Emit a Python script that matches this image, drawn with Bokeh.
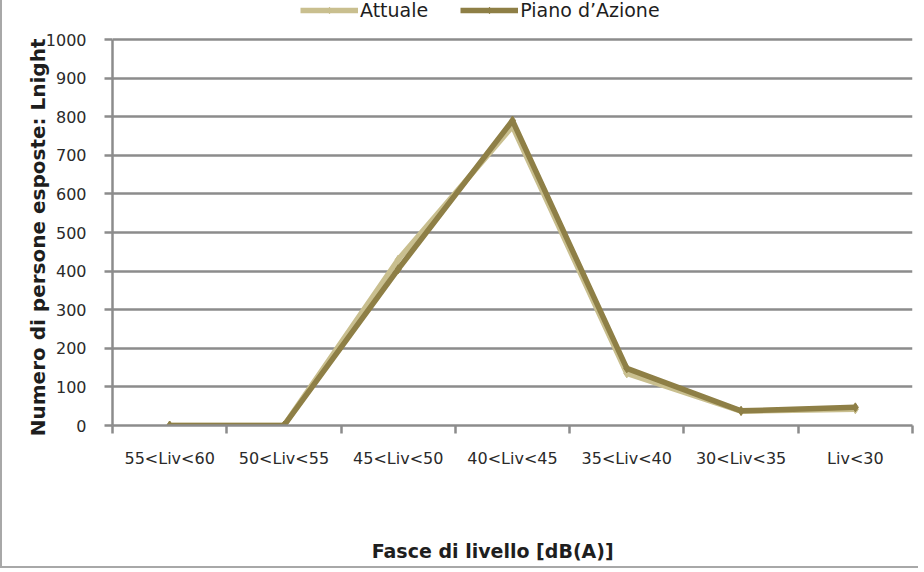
from bokeh.plotting import figure
from bokeh.models import Range1d, FixedTicker, Legend, LegendItem
from bokeh.embed import file_html
from bokeh.resources import INLINE

categories = ["55<Liv<60", "50<Liv<55", "45<Liv<50", "40<Liv<45",
              "35<Liv<40", "30<Liv<35", "Liv<30"]
attuale = [0, 0, 430, 775, 135, 37, 42]
piano = [0, 0, 405, 790, 148, 38, 47]
y_ticks = list(range(0, 1001, 100))
y_min, y_max = 0, 1000

FONT = "DejaVu Sans"
GRID = "#8c8c8c"
C_ATT = "#c9bf8f"
C_PIANO = "#8e7f46"

xs = [i + 0.5 for i in range(len(categories))]
bounds = list(range(len(categories) + 1))

FRAME_H = 425          # frame reaches the top of the figure
AXIS_H = 386           # pixels spanned by 0..1000
y_top = y_min + (y_max - y_min) * FRAME_H / AXIS_H

p = figure(width=918, height=568, output_backend="svg", toolbar_location=None,
           x_range=Range1d(0, len(categories)), y_range=Range1d(y_min, y_top),
           min_border_left=110, min_border_right=8, min_border_top=0,
           min_border_bottom=143)
p.outline_line_color = None
p.background_fill_color = "white"
p.border_fill_color = "white"
p.styles = {"border-left": "2px solid #a8a8a8", "border-bottom": "2px solid #a8a8a8"}

p.xgrid.visible = False
p.ygrid.grid_line_color = GRID
p.ygrid.grid_line_width = 2.5
p.ygrid.ticker = FixedTicker(ticks=y_ticks)

# y axis
p.yaxis.ticker = FixedTicker(ticks=y_ticks)
p.yaxis.bounds = (y_min, y_max)
p.yaxis.axis_line_color = GRID
p.yaxis.axis_line_width = 2.5
p.yaxis.major_tick_line_color = GRID
p.yaxis.major_tick_line_width = 2.5
p.yaxis.major_tick_out = 8
p.yaxis.major_tick_in = 0
p.yaxis.minor_tick_line_color = None
p.yaxis.major_label_standoff = 18
p.yaxis.major_label_text_font = FONT
p.yaxis.major_label_text_font_size = "16px"
p.yaxis.major_label_text_color = "#2a2a2a"
# trailing spaces re-centre the label on the 0..1000 span
p.yaxis.axis_label = "Numero di persone esposte: Lnight" + " " * 7
p.yaxis.axis_label_text_font = FONT
p.yaxis.axis_label_text_font_size = "20px"
p.yaxis.axis_label_text_font_style = "bold"
p.yaxis.axis_label_text_color = "#1e1e1e"
p.yaxis.axis_label_standoff = -7

# x axis
p.xaxis.ticker = FixedTicker(ticks=xs, minor_ticks=bounds)
p.xaxis.major_label_overrides = {x: c for x, c in zip(xs, categories)}
p.xaxis.axis_line_color = GRID
p.xaxis.axis_line_width = 2.5
p.xaxis.major_tick_line_color = None
p.xaxis.major_tick_out = 0
p.xaxis.major_tick_in = 0
p.xaxis.minor_tick_line_color = GRID
p.xaxis.minor_tick_line_width = 2.5
p.xaxis.minor_tick_out = 8
p.xaxis.minor_tick_in = 0
p.xaxis.major_label_standoff = 15
p.xaxis.major_label_text_font = FONT
p.xaxis.major_label_text_font_size = "16px"
p.xaxis.major_label_text_color = "#2a2a2a"
p.xaxis.axis_label = "Fasce di livello [dB(A)]" + " " * 6
p.xaxis.axis_label_text_font = FONT
p.xaxis.axis_label_text_font_size = "19px"
p.xaxis.axis_label_text_font_style = "bold"
p.xaxis.axis_label_text_color = "#1e1e1e"
p.xaxis.axis_label_standoff = 69

l1 = p.line(xs, attuale, line_color=C_ATT, line_width=5.5)
s1 = p.scatter(xs, attuale, marker="diamond", size=9, color=C_ATT)
l2 = p.line(xs, piano, line_color=C_PIANO, line_width=5.5)
s2 = p.scatter(xs, piano, marker="diamond", size=9, color=C_PIANO)

legend = Legend(items=[LegendItem(label="Attuale", renderers=[l1, s1]),
                       LegendItem(label="Piano d\u2019Azione", renderers=[l2, s2])],
                orientation="horizontal", location=(188, 404))
legend.border_line_color = None
legend.background_fill_alpha = 0
legend.padding = 0
legend.margin = 0
legend.spacing = 32
legend.glyph_width = 58
legend.glyph_height = 16
legend.label_height = 16
legend.label_standoff = 2
legend.label_text_font = FONT
legend.label_text_font_size = "19px"
legend.label_text_color = "#1e1e1e"
p.add_layout(legend, "center")

open("out.html", "w").write(file_html(p, INLINE))
